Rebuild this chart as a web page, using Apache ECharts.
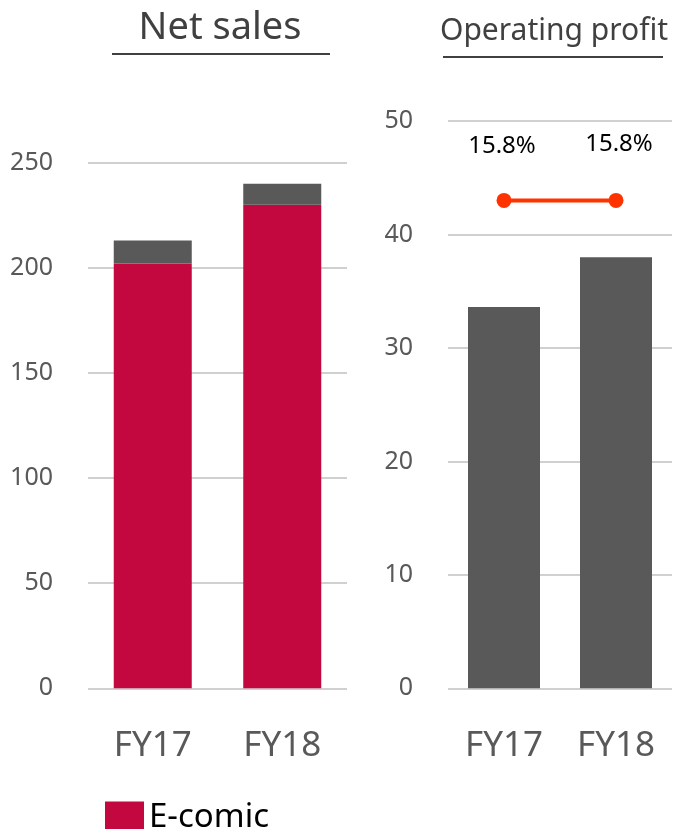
<!DOCTYPE html>
<html>
<head>
<meta charset="utf-8">
<script src="https://cdn.jsdelivr.net/npm/echarts@6/dist/echarts.min.js"></script>
<style>
  html, body { margin: 0; padding: 0; background: #fff; }
  #chart { width: 677px; height: 829px; }
</style>
</head>
<body>
<div id="chart"></div>
<script>
// Data
const years = ['FY17', 'FY18'];
const ecomicSales = [202, 230];
const otherSales = [11, 10];
const operatingProfit = [33.6, 38];
const marginLevel = [43, 43];
const marginLabels = ['15.8%', '15.8%'];

const FONT = '"Noto Sans", sans-serif';
const RED = '#C3073F';
const GRAY = '#595959';

const chart = echarts.init(document.getElementById('chart'));

const axisLabelY = { color: GRAY, fontSize: 25, fontFamily: FONT, margin: 35 };
const axisLabelX = { color: GRAY, fontSize: 35, fontFamily: FONT, margin: 40 };
const splitLine = { show: true, lineStyle: { color: '#D0D0D0', width: 2 } };

// small nudges so the margin labels sit where the reference has them
const labelOffsets = [[-2, 0], [3, -2]];

const option = {
    animation: false,
    backgroundColor: '#fff',
    title: [
        {
            text: 'Net sales',
            left: 215, top: 4, textAlign: 'center',
            textStyle: { color: '#404040', fontSize: 38, fontWeight: 'normal', fontFamily: FONT }
        },
        {
            text: 'Operating profit',
            left: 549, top: 11, textAlign: 'center',
            textStyle: { color: '#404040', fontSize: 30, fontWeight: 'normal', fontFamily: FONT }
        }
    ],
    // underlines below the two titles
    graphic: [
        { type: 'line', shape: { x1: 112, y1: 54, x2: 330, y2: 54 }, style: { stroke: '#404040', lineWidth: 2 } },
        { type: 'line', shape: { x1: 443, y1: 57, x2: 663, y2: 57 }, style: { stroke: '#404040', lineWidth: 2 } }
    ],
    legend: {
        data: ['E-comic'],
        left: 100, top: 796,
        itemWidth: 39, itemHeight: 32, itemGap: 10,
        icon: 'rect',
        textStyle: { color: '#000', fontSize: 33, fontFamily: FONT }
    },
    grid: [
        { left: 88, top: 162.7, width: 259, height: 525.6 },
        { left: 448, top: 121, width: 224, height: 567.3 }
    ],
    xAxis: [
        {
            gridIndex: 0, type: 'category', data: years,
            axisLine: { show: false }, axisTick: { show: false }, axisLabel: axisLabelX
        },
        {
            gridIndex: 1, type: 'category', data: years,
            axisLine: { show: false }, axisTick: { show: false }, axisLabel: axisLabelX
        }
    ],
    yAxis: [
        {
            gridIndex: 0, type: 'value', min: 0, max: 250, interval: 50,
            axisLine: { show: false }, axisTick: { show: false },
            axisLabel: axisLabelY, splitLine: splitLine
        },
        {
            gridIndex: 1, type: 'value', min: 0, max: 50, interval: 10,
            axisLine: { show: false }, axisTick: { show: false },
            axisLabel: axisLabelY, splitLine: splitLine
        }
    ],
    series: [
        {
            name: 'E-comic', type: 'bar', stack: 'sales',
            xAxisIndex: 0, yAxisIndex: 0, barWidth: 78,
            itemStyle: { color: RED },
            data: ecomicSales
        },
        {
            name: 'Others', type: 'bar', stack: 'sales',
            xAxisIndex: 0, yAxisIndex: 0, barWidth: 78,
            itemStyle: { color: GRAY },
            data: otherSales
        },
        {
            name: 'Operating profit', type: 'bar',
            xAxisIndex: 1, yAxisIndex: 1, barWidth: 72,
            itemStyle: { color: GRAY },
            data: operatingProfit
        },
        {
            name: 'Margin', type: 'line',
            xAxisIndex: 1, yAxisIndex: 1,
            symbol: 'circle', symbolSize: 15,
            lineStyle: { color: '#FF3300', width: 4 },
            itemStyle: { color: '#FF3300' },
            label: {
                show: true, position: 'top', distance: 35,
                color: '#000', fontSize: 24, fontFamily: FONT,
                formatter: p => marginLabels[p.dataIndex]
            },
            data: marginLevel.map((v, i) => ({ value: v, label: { offset: labelOffsets[i] } }))
        }
    ]
};

chart.setOption(option);

window.addEventListener('resize', () => chart.resize());
</script>
</body>
</html>
